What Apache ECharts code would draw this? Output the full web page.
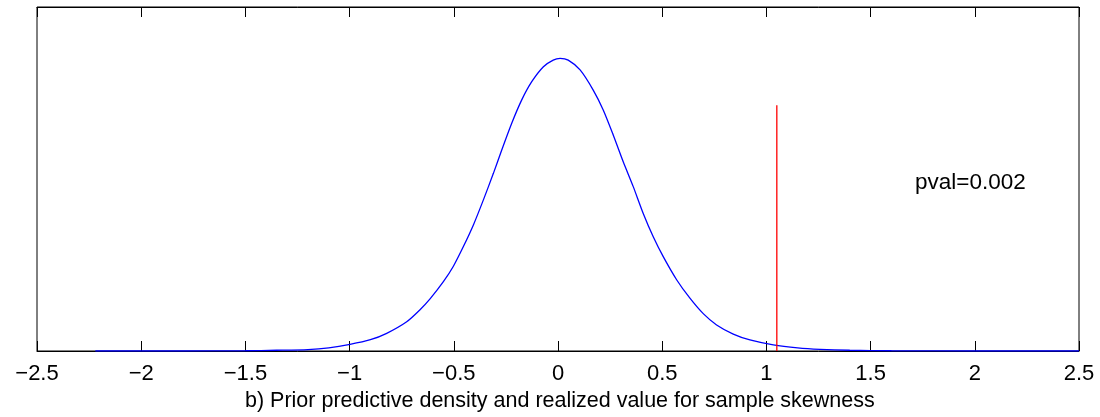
<!DOCTYPE html>
<html>
<head>
<meta charset="utf-8">
<script src="https://cdn.jsdelivr.net/npm/echarts@6/dist/echarts.min.js"></script>
<style>
  html, body { margin: 0; padding: 0; background: #fff; }
  #container { width: 1100px; height: 417px; }
</style>
</head>
<body>
<div id="container"></div>
<script>
  // density curve
  const densX = [-2.22, -1.8, -1.5, -1.35, -1.2, -1.1, -0.998, -0.9, -0.822, -0.726, -0.662, -0.614,
    -0.550, -0.502, -0.454, -0.406, -0.358, -0.310, -0.270, -0.222, -0.174, -0.126, -0.070,
    -0.023, 0.010, 0.049, 0.106, 0.169, 0.217, 0.265, 0.313, 0.361, 0.409, 0.457, 0.505,
    0.570, 0.633, 0.697, 0.761, 0.841, 0.921, 1.033, 1.150, 1.257, 1.4, 1.6, 2.0, 2.5];
  const densY = [0, 0, 0.001, 0.003, 0.006, 0.013, 0.027, 0.046, 0.072, 0.119, 0.168, 0.212,
    0.282, 0.345, 0.425, 0.513, 0.615, 0.723, 0.818, 0.927, 1.022, 1.096, 1.157,
    1.184, 1.191, 1.184, 1.144, 1.062, 0.981, 0.879, 0.770, 0.669, 0.560, 0.465, 0.384,
    0.289, 0.215, 0.152, 0.106, 0.069, 0.045, 0.025, 0.013, 0.007, 0.003, 0.001, 0, 0];
  // realized value (red line)
  const realizedX = 1.05;
  const realizedTop = 1.0;
  const pvalText = 'pval=0.002';
  const xTicks = { min: -2.5, max: 2.5, step: 0.5 };
  const yRange = { min: 0, max: 1.4 };
  const caption = 'b) Prior predictive density and realized value for sample skewness';

  let dom = document.getElementById('container');
  let myChart = echarts.init(dom);
  let fontFam = 'Liberation Sans, Arial, Helvetica, sans-serif';

  let curve = densX.map((x, i) => [x, densY[i]]);

  let option = {
    animation: false,
    grid: {
      left: 37, right: 21, top: 7, bottom: 66,
      show: true, borderColor: '#000', borderWidth: 1, backgroundColor: '#fff'
    },
    xAxis: [{
      type: 'value',
      position: 'bottom',
      min: xTicks.min, max: xTicks.max, interval: xTicks.step,
      axisLine: {show: true, lineStyle: {color: '#000', width: 1}},
      axisTick: {show: true, inside: true, length: 10, lineStyle: {color: '#000'}},
      splitLine: {show: false},
      axisLabel: {
        color: '#000', fontSize: 22, fontFamily: fontFam, margin: 12,
        formatter: v => String(v).replace('-', '\u2212')
      }
    }, {
      type: 'value',
      position: 'top',
      min: xTicks.min, max: xTicks.max, interval: xTicks.step,
      axisLine: {show: true, lineStyle: {color: '#000', width: 1}},
      axisTick: {show: true, inside: true, length: 10, lineStyle: {color: '#000'}},
      splitLine: {show: false},
      axisLabel: {show: false}
    }],
    yAxis: {
      type: 'value',
      min: yRange.min, max: yRange.max,
      axisLine: {show: false},
      axisTick: {show: false},
      axisLabel: {show: false},
      splitLine: {show: false}
    },
    series: [{
      name: 'density',
      type: 'line',
      data: curve,
      smooth: 0.25,
      showSymbol: false,
      lineStyle: {color: '#0000ff', width: 1.3},
      z: 3
    }, {
      name: 'realized',
      type: 'line',
      data: [[realizedX, 0], [realizedX, realizedTop]],
      showSymbol: false,
      lineStyle: {color: '#ff0000', width: 1.3},
      z: 4
    }],
    graphic: [{
      type: 'text',
      left: 915, top: 171,
      style: {text: pvalText, fill: '#000', font: '22.5px ' + fontFam}
    }, {
      type: 'text',
      left: 245, top: 390,
      style: {text: caption, fill: '#000', font: '21.5px ' + fontFam}
    }]
  };

  myChart.setOption(option, true);
</script>
</body>
</html>
